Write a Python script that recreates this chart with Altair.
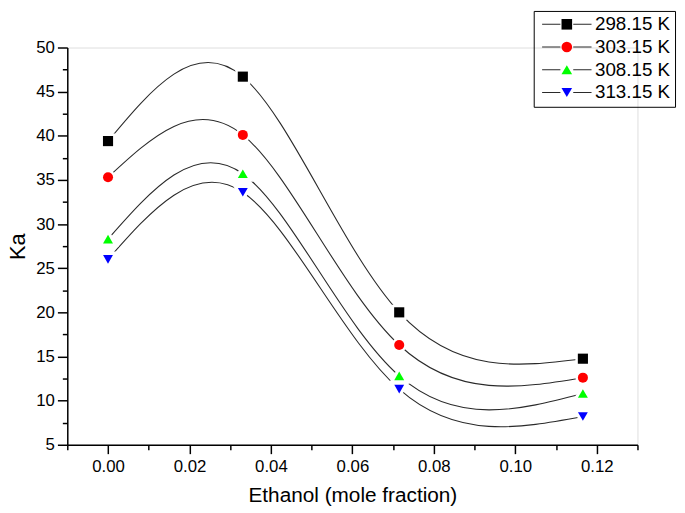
import altair as alt
import pandas as pd

# ---- data ----
x_vals = [0.0, 0.0331, 0.0715, 0.1166]
temps = ["298.15 K", "303.15 K", "308.15 K", "313.15 K"]
ka_298 = [39.4, 46.7, 20.0, 14.75]
ka_303 = [35.3, 40.1, 16.3, 12.6]
ka_308 = [28.3, 35.7, 12.8, 10.8]
ka_313 = [26.0, 33.6, 11.3, 8.2]

colors = ["#000000", "#ff0000", "#00ff00", "#0000ff"]
shapes = ["square", "circle", "triangle-up", "triangle-down"]
sizes = [105, 100, 165, 165]

x_major = [0.0, 0.02, 0.04, 0.06, 0.08, 0.10, 0.12]
x_minor = [-0.01, 0.01, 0.03, 0.05, 0.07, 0.09, 0.11, 0.13]
y_major = [5, 10, 15, 20, 25, 30, 35, 40, 45, 50]
y_minor = [7.5, 12.5, 17.5, 22.5, 27.5, 32.5, 37.5, 42.5, 47.5]

rows = []
for t, vals in zip(temps, [ka_298, ka_303, ka_308, ka_313]):
    for x, v in zip(x_vals, vals):
        rows.append({"x": x, "ka": v, "T": t, "T2": t, "T3": t})
df = pd.DataFrame(rows)

FONT = "Liberation Sans"
xs = alt.Scale(domain=[-0.01, 0.13], nice=False, zero=False)
ys = alt.Scale(domain=[5, 50], nice=False, zero=False)

base = alt.Chart(df)

LX, LY = 472, -37

line_legend = alt.Legend(
    title=None, orient="none", legendX=LX, legendY=LY,
    symbolType="M-5,0L-1.3,0M1.3,0L5,0", symbolSize=100, symbolOffset=20,
    symbolStrokeWidth=1.1, labelOffset=19, labelFontSize=19, labelFont=FONT,
    labelColor="black", strokeColor="black", padding=4, rowPadding=3,
)
marker_legend = alt.Legend(
    title=None, orient="none", legendX=LX, legendY=LY,
    symbolSize=115, symbolOffset=20,
    labelOffset=19, labelFontSize=19, labelFont=FONT, labelOpacity=0,
    padding=4, rowPadding=3,
)

lines = base.mark_line(interpolate="natural", strokeWidth=1.1).encode(
    x=alt.X("x:Q", scale=xs, axis=alt.Axis(values=x_minor, labels=False, domain=False,
                                            tickSize=5, tickWidth=1.5, tickColor="black",
                                            title=None, orient="bottom", grid=False)),
    y=alt.Y("ka:Q", scale=ys, axis=alt.Axis(values=y_minor, labels=False, domain=False,
                                             tickSize=5, tickWidth=1.5, tickColor="black",
                                             title=None, orient="left", grid=False)),
    stroke=alt.Stroke("T2:N", scale=alt.Scale(range=["#2a2a2a"] * 4), legend=line_legend),
)

halos = []
for t, shp, sz in zip(temps, shapes, sizes):
    halos.append(
        base.transform_filter(alt.datum.T == t).mark_point(
            filled=True, fill="white", stroke="white", strokeWidth=5, opacity=1,
            shape=shp, size=sz,
        ).encode(
            x=alt.X("x:Q", scale=xs, axis=None),
            y=alt.Y("ka:Q", scale=ys, axis=None),
        )
    )

pts = base.mark_point(filled=True, opacity=1).encode(
    x=alt.X("x:Q", scale=xs, axis=alt.Axis(
        values=x_major, format=".2f", tickSize=9, tickWidth=1.5, tickColor="black",
        domainColor="black", domainWidth=1.5, labelFontSize=17, labelFont=FONT,
        labelColor="black", labelPadding=5, title="Ethanol (mole fraction)",
        titleFontSize=21, titleFont=FONT, titleFontWeight="normal", titleColor="black",
        titlePadding=10, orient="bottom", grid=False)),
    y=alt.Y("ka:Q", scale=ys, axis=alt.Axis(
        values=y_major, format="d", tickSize=10, tickWidth=1.5, tickColor="black",
        domainColor="black", domainWidth=1.5, labelFontSize=17, labelFont=FONT,
        labelColor="black", labelPadding=3, title="Ka",
        titleFontSize=22, titleFont=FONT, titleFontWeight="normal", titleColor="black",
        titlePadding=6, orient="left", grid=False)),
    fill=alt.Fill("T:N", scale=alt.Scale(domain=temps, range=colors), legend=marker_legend),
    shape=alt.Shape("T:N", scale=alt.Scale(domain=temps, range=shapes), legend=marker_legend),
    size=alt.Size("T3:N", scale=alt.Scale(range=sizes), legend=None),
)

chart = alt.layer(lines, *halos, pts).resolve_axis(
    x="independent", y="independent"
).properties(
    width=577, height=402,
    autosize=alt.AutoSizeParams(type="none"),
    padding={"left": 60, "top": 37, "right": 40, "bottom": 60},
).configure_view(stroke=None).configure(background="white")

chart.save("out.html", embed_options={"renderer": "svg", "actions": False})
